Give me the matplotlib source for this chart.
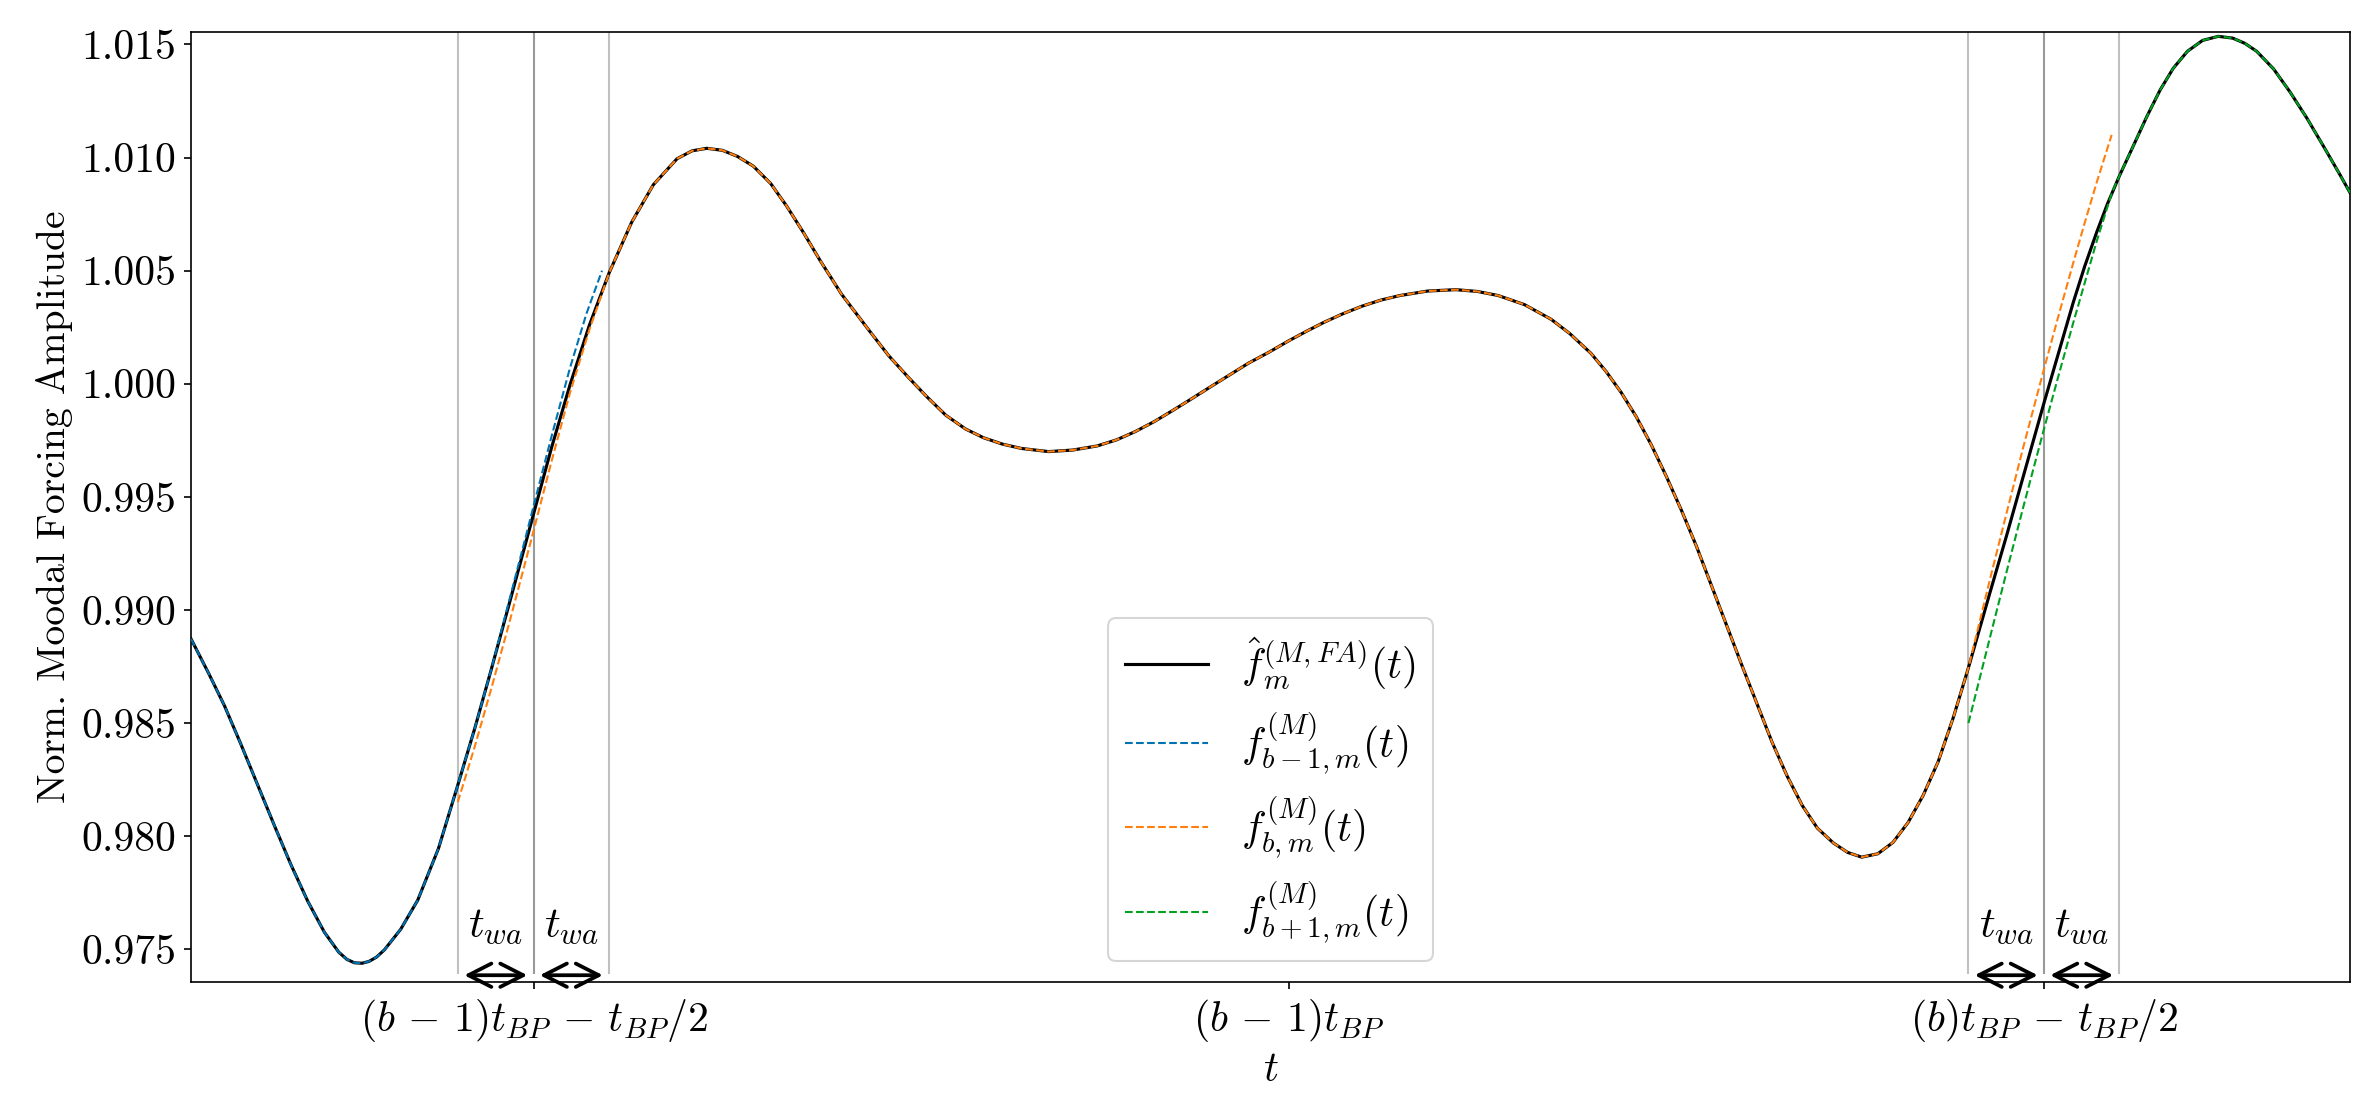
import numpy as np
import matplotlib
matplotlib.use("Agg")
import matplotlib.pyplot as plt

# --- style: computer modern look ---
plt.rcParams['font.family'] = 'serif'
plt.rcParams['font.serif'] = ['cmr10']
plt.rcParams['mathtext.fontset'] = 'cm'
plt.rcParams['axes.formatter.use_mathtext'] = True
plt.rcParams['axes.unicode_minus'] = False
plt.rcParams['font.size'] = 20

# --- data (t in units of t_BP, centred on (b-1)t_BP) ---
t_black = [-0.7268, -0.7150, -0.7047, -0.6940, -0.6826, -0.6715, -0.6606, -0.6495, -0.6385, -0.6290,
           -0.6236, -0.6186, -0.6136, -0.6090, -0.6040, -0.5988, -0.5880, -0.5767, -0.5630, -0.5502,
           -0.5390, -0.5281, -0.5160, -0.5061, -0.5000, -0.4880, -0.4759, -0.4630, -0.4500, -0.4350,
           -0.4207, -0.4050, -0.3950, -0.3853, -0.3750, -0.3650, -0.3545, -0.3430, -0.3324, -0.3210,
           -0.3103, -0.2960, -0.2772, -0.2650, -0.2521, -0.2400, -0.2271, -0.2140, -0.2020, -0.1895,
           -0.1770, -0.1590, -0.1430, -0.1269, -0.1140, -0.1018, -0.0890, -0.0768, -0.0640, -0.0517,
           -0.0390, -0.0267, -0.0130, 0.0000, 0.0117, 0.0234, 0.0360, 0.0485, 0.0610, 0.0735,
           0.0920, 0.1106, 0.1250, 0.1387, 0.1560, 0.1737, 0.1860, 0.2000, 0.2100, 0.2200,
           0.2300, 0.2400, 0.2500, 0.2600, 0.2700, 0.2800, 0.2900, 0.3000, 0.3100, 0.3200,
           0.3300, 0.3400, 0.3500, 0.3605, 0.3700, 0.3793, 0.3900, 0.4000, 0.4100, 0.4200,
           0.4300, 0.4400, 0.4500, 0.4643, 0.4753, 0.4863, 0.5000, 0.5100, 0.5194, 0.5270,
           0.5349, 0.5420, 0.5500, 0.5580, 0.5680, 0.5770, 0.5856, 0.5950, 0.6050, 0.6154,
           0.6250, 0.6330, 0.6408, 0.6520, 0.6629, 0.6740, 0.6849, 0.6959, 0.7026]
f_black = [0.98872, 0.98718, 0.98577, 0.98410, 0.98225, 0.98045, 0.97873, 0.97712, 0.97575, 0.97487,
           0.97455, 0.97440, 0.97438, 0.97446, 0.97465, 0.97497, 0.97588, 0.97717, 0.97945, 0.98225,
           0.98475, 0.98735, 0.99030, 0.99275, 0.99425, 0.99720, 0.99995, 1.00260, 1.00490, 1.00715,
           1.00880, 1.00995, 1.01030, 1.01041, 1.01032, 1.01005, 1.00962, 1.00885, 1.00785, 1.00665,
           1.00545, 1.00395, 1.00230, 1.00125, 1.00030, 0.99945, 0.99861, 0.99800, 0.99761, 0.99733,
           0.99714, 0.99700, 0.99707, 0.99725, 0.99752, 0.99788, 0.99833, 0.99882, 0.99935, 0.99987,
           1.00040, 1.00091, 1.00140, 1.00190, 1.00232, 1.00272, 1.00310, 1.00343, 1.00370, 1.00390,
           1.00410, 1.00416, 1.00408, 1.00390, 1.00350, 1.00285, 1.00222, 1.00135, 1.00055, 0.99962,
           0.99855, 0.99730, 0.99590, 0.99440, 0.99280, 0.99105, 0.98930, 0.98755, 0.98585, 0.98415,
           0.98265, 0.98135, 0.98035, 0.97970, 0.97928, 0.97907, 0.97922, 0.97972, 0.98060, 0.98180,
           0.98330, 0.98525, 0.98745, 0.99078, 0.99330, 0.99590, 0.99915, 1.00145, 1.00360, 1.00520,
           1.00670, 1.00795, 1.00920, 1.01035, 1.01180, 1.01300, 1.01395, 1.01470, 1.01518, 1.01536,
           1.01528, 1.01505, 1.01470, 1.01392, 1.01290, 1.01175, 1.01052, 1.00925, 1.00845]

# segments where the block fits part from the blended signal
t_blue_tail = [-0.5160, -0.5061, -0.5000, -0.4880, -0.4759, -0.4650, -0.4547]
f_blue_tail = [0.99045, 0.99300, 0.99460, 0.99770, 1.00070, 1.00310, 1.00500]

t_orange_head = [-0.5502, -0.5390, -0.5281, -0.5160, -0.5061, -0.5000, -0.4880, -0.4759, -0.4630]
f_orange_head = [0.98150, 0.98395, 0.98650, 0.98945, 0.99195, 0.99350, 0.99660, 0.99960, 1.00240]
t_orange_tail = [0.4643, 0.4753, 0.4863, 0.5000, 0.5100, 0.5194, 0.5270, 0.5349, 0.5448]
f_orange_tail = [0.99137, 0.99430, 0.99720, 1.00065, 1.00310, 1.00535, 1.00712, 1.00890, 1.01100]

t_green_head = [0.4500, 0.4643, 0.4753, 0.4863, 0.5000, 0.5100, 0.5194, 0.5349, 0.5450]
f_green_head = [0.98500, 0.98880, 0.99170, 0.99455, 0.99800, 1.00045, 1.00270, 1.00630, 1.00845]

tick_pos = [-0.5, 0.0, 0.5]
tick_labels = [r'$(b\,-\,1)t_{BP}\,-\,t_{BP}/2$', r'$(b\,-\,1)t_{BP}$', r'$(b)t_{BP}\,-\,t_{BP}/2$']
t_wa = 0.05
labels = [r'$\hat{f}_m^{(M,FA)}(t)$', r'$f_{b-1,m}^{(M)}(t)$',
          r'$f_{b,m}^{(M)}(t)$', r'$f_{b+1,m}^{(M)}(t)$']

tb = np.array(t_black)
fb = np.array(f_black)

blue_t = np.concatenate([tb[tb <= -0.528], t_blue_tail])
blue_f = np.concatenate([fb[tb <= -0.528], f_blue_tail])
mid = (tb >= -0.45) & (tb <= 0.45)
orange_t = np.concatenate([t_orange_head, tb[mid], t_orange_tail])
orange_f = np.concatenate([f_orange_head, fb[mid], f_orange_tail])
green_t = np.concatenate([t_green_head, tb[tb >= 0.55]])
green_f = np.concatenate([f_green_head, fb[tb >= 0.55]])

# --- figure ---
fig = plt.figure(figsize=(2373 / 150, 1105 / 150), dpi=150)
ax = fig.add_axes([0.0805, 0.1113, 0.9098, 0.8597])

ymin, ymax = 0.97355, 1.01555
line_bottom = 0.9739
for c in tick_pos[::2]:
    ax.vlines([c - t_wa, c + t_wa], line_bottom, ymax, color='#c0c0c0', lw=1.0, zorder=1)
    ax.vlines([c], line_bottom, ymax, color='#999999', lw=1.0, zorder=1)
    for a, b in [(c - t_wa, c), (c, c + t_wa)]:
        ax.annotate('', xy=(a, 0.97385), xytext=(b, 0.97385),
                    arrowprops=dict(arrowstyle='<->,head_length=0.55,head_width=0.28',
                                    lw=1.8, color='black', shrinkA=3, shrinkB=3,
                                    mutation_scale=20))
        ax.text((a + b) / 2, 0.9760, r'$t_{wa}$', ha='center', va='center', fontsize=21)

ax.plot(tb, fb, color='black', lw=1.5, label=labels[0], zorder=3)
ax.plot(blue_t, blue_f, '--', color='#0173B2', lw=1.0, label=labels[1], zorder=4)
ax.plot(orange_t, orange_f, '--', color='#FF7F0E', lw=1.0, label=labels[2], zorder=4)
ax.plot(green_t, green_f, '--', color='#00A020', lw=1.0, label=labels[3], zorder=4)

ax.set_xlim(-0.7268, 0.7026)
ax.set_ylim(ymin, ymax)
ax.set_xticks(tick_pos)
ax.set_xticklabels(tick_labels)
ax.set_yticks(np.arange(0.975, 1.0151, 0.005))
ax.yaxis.set_major_formatter(matplotlib.ticker.FormatStrFormatter('%.3f'))
ax.set_xlabel(r'$t$')
ax.set_ylabel('Norm. Moodal Forcing Amplitude', fontsize=19)

leg = ax.legend(loc='lower center', fontsize=20, labelspacing=0.45)

fig.savefig('out.png', dpi=150)
